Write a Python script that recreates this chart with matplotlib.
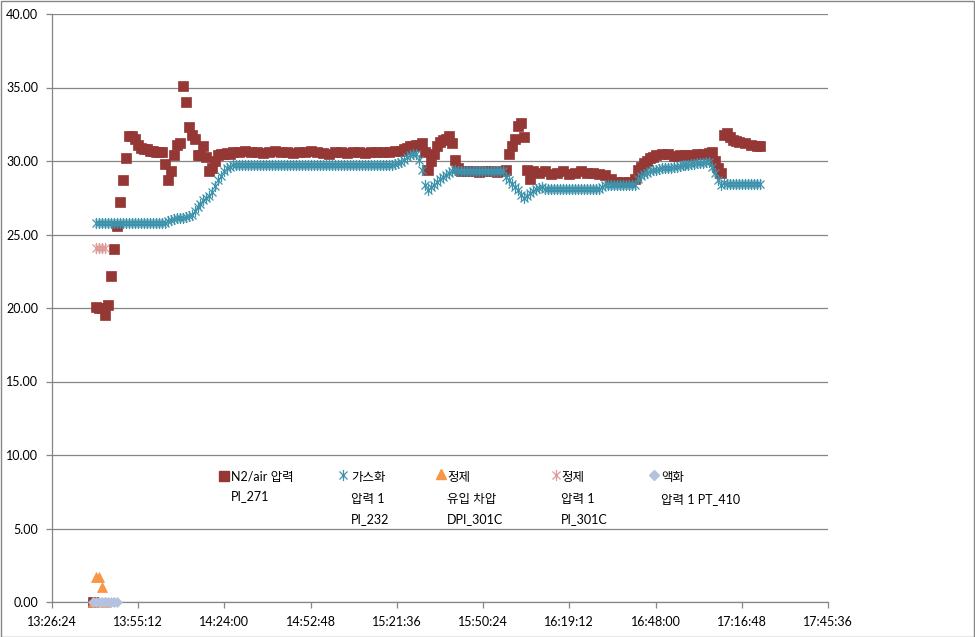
import matplotlib
matplotlib.use("Agg")
import matplotlib.pyplot as plt
from matplotlib.path import Path
from matplotlib.lines import Line2D
from matplotlib.patches import Rectangle

# ---------------- data ----------------
x_tick_labels = ["13:26:24", "13:55:12", "14:24:00", "14:52:48", "15:21:36",
                 "15:50:24", "16:19:12", "16:48:00", "17:16:48", "17:45:36"]
y_ticks = [0, 5, 10, 15, 20, 25, 30, 35, 40]

n2_time = ["13:40", "13:41", "13:42", "13:43", "13:44", "13:45", "13:46", "13:47", "13:48", "13:49",
           "13:50", "13:51", "13:52", "13:53", "13:54", "13:55", "13:56", "13:57", "13:58", "13:59",
           "14:00", "14:01", "14:02", "14:03", "14:04", "14:05", "14:06", "14:07", "14:08", "14:09",
           "14:10", "14:11", "14:12", "14:13", "14:14", "14:15", "14:16", "14:17", "14:18", "14:19",
           "14:20", "14:21", "14:22", "14:23", "14:24", "14:25", "14:26", "14:27",
           "14:29", "14:31", "14:33", "14:35", "14:37", "14:39", "14:41", "14:43", "14:45", "14:47",
           "14:49", "14:51", "14:53", "14:55", "14:57", "14:59", "15:01", "15:03", "15:05", "15:07",
           "15:09", "15:11", "15:13", "15:15", "15:17", "15:19", "15:21",
           "15:23", "15:24", "15:25", "15:26", "15:27", "15:28", "15:29", "15:30", "15:31", "15:32",
           "15:33", "15:34", "15:35", "15:36", "15:37", "15:38", "15:39", "15:40", "15:41", "15:42",
           "15:43", "15:45", "15:47", "15:49", "15:51", "15:53", "15:55", "15:57", "15:58", "15:59",
           "16:00", "16:01", "16:02", "16:03", "16:04", "16:05", "16:06", "16:07", "16:09", "16:11",
           "16:13", "16:15", "16:17", "16:19", "16:21", "16:23", "16:25", "16:27", "16:29", "16:31",
           "16:33", "16:35", "16:37", "16:39", "16:41", "16:42", "16:43", "16:44", "16:45", "16:46",
           "16:47", "16:48", "16:50", "16:52", "16:54", "16:56", "16:58", "17:00", "17:02", "17:04",
           "17:06", "17:07", "17:08", "17:09", "17:10", "17:11", "17:12", "17:13", "17:14", "17:15",
           "17:16", "17:18", "17:20", "17:22", "17:23"]
n2_val = [0.0, 20.1, 20.0, 20.0, 19.5, 20.2, 22.2, 24.0, 25.6, 27.2,
          28.7, 30.2, 31.7, 31.7, 31.5, 31.1, 30.9, 30.85, 30.8, 30.7,
          30.65, 30.6, 30.6, 30.6, 29.8, 28.7, 29.3, 30.4, 31.1, 31.2,
          35.1, 34.0, 32.3, 31.8, 31.5, 30.4, 30.4, 31.0, 30.3, 29.3,
          29.5, 30.0, 30.4, 30.5, 30.5, 30.55, 30.5, 30.6,
          30.6, 30.65, 30.6, 30.6, 30.55, 30.6, 30.65, 30.6, 30.6, 30.55,
          30.6, 30.6, 30.65, 30.6, 30.55, 30.5, 30.6, 30.6, 30.55, 30.6,
          30.6, 30.55, 30.6, 30.6, 30.6, 30.6, 30.65,
          30.7, 30.8, 30.9, 31.0, 31.05, 31.1, 31.1, 31.2, 30.6, 29.4,
          30.0, 30.5, 31.0, 31.3, 31.4, 31.5, 31.7, 31.2, 30.1, 29.5,
          29.3, 29.3, 29.3, 29.25, 29.3, 29.3, 29.25, 29.3, 29.4, 30.5,
          31.0, 31.5, 32.4, 32.6, 31.6, 29.4, 28.8, 29.3, 29.2, 29.3,
          29.1, 29.2, 29.3, 29.1, 29.2, 29.3, 29.2, 29.2, 29.1, 29.05,
          28.75, 28.6, 28.6, 28.6, 28.8, 29.4, 29.6, 29.85, 30.0, 30.2,
          30.3, 30.4, 30.5, 30.45, 30.35, 30.4, 30.4, 30.4, 30.45, 30.5,
          30.55, 30.6, 30.0, 29.5, 29.15, 31.8, 31.9, 31.6, 31.4, 31.35,
          31.3, 31.2, 31.1, 31.0, 31.0]

# gasification pressure 1 (PI_232): one reading per minute from 13:41 to 17:23
gas_start = "13:41"
gas_val = [
    # 13:41 - 14:04
    25.8, 25.8, 25.8, 25.8, 25.8, 25.8, 25.8, 25.8, 25.8, 25.8,
    25.8, 25.8, 25.8, 25.8, 25.8, 25.8, 25.8, 25.8, 25.8, 25.8,
    25.8, 25.8, 25.8, 25.8,
    # 14:05 - 14:26
    25.9, 26.0, 26.05, 26.1, 26.1, 26.15, 26.2, 26.25, 26.3, 26.6,
    26.9, 27.1, 27.35, 27.5, 27.6, 27.9, 28.3, 28.7, 29.0, 29.3,
    29.5, 29.6,
    # 14:27 - 15:22
    29.7, 29.7, 29.7, 29.7, 29.7, 29.7, 29.7, 29.7, 29.7, 29.7,
    29.7, 29.7, 29.7, 29.7, 29.7, 29.7, 29.7, 29.7, 29.7, 29.7,
    29.7, 29.7, 29.7, 29.7, 29.7, 29.7, 29.7, 29.7, 29.7, 29.7,
    29.7, 29.7, 29.7, 29.7, 29.7, 29.7, 29.7, 29.7, 29.7, 29.7,
    29.7, 29.7, 29.7, 29.7, 29.7, 29.7, 29.7, 29.7, 29.7, 29.7,
    29.7, 29.7, 29.7, 29.75, 29.8, 29.85,
    # 15:23 - 15:41
    29.9, 30.05, 30.25, 30.4, 30.45, 30.5, 30.1, 29.4, 28.4, 28.0,
    28.25, 28.4, 28.6, 28.75, 28.9, 29.05, 29.2, 29.3, 29.4,
    # 15:42 - 15:57
    29.3, 29.3, 29.3, 29.3, 29.3, 29.3, 29.3, 29.3, 29.3, 29.3,
    29.3, 29.3, 29.3, 29.3, 29.3, 29.3,
    # 15:58 - 16:10
    28.9, 28.7, 28.45, 28.2, 28.0, 27.7, 27.45, 27.6, 27.8, 27.95,
    28.1, 28.15, 28.2,
    # 16:11 - 16:29
    28.1, 28.1, 28.1, 28.1, 28.1, 28.1, 28.1, 28.1, 28.1, 28.1,
    28.1, 28.1, 28.1, 28.1, 28.1, 28.1, 28.1, 28.1, 28.1,
    # 16:30 - 16:31
    28.2, 28.35,
    # 16:32 - 16:41
    28.35, 28.35, 28.35, 28.35, 28.35, 28.35, 28.35, 28.35, 28.35, 28.35,
    # 16:42 - 17:11
    28.8, 28.95, 29.1, 29.15, 29.3, 29.4, 29.4, 29.45, 29.5, 29.5,
    29.55, 29.55, 29.6, 29.6, 29.65, 29.7, 29.75, 29.75, 29.8, 29.8,
    29.85, 29.85, 29.85, 29.9, 29.9, 29.6, 29.15, 28.7, 28.35, 28.5,
    # 17:12 - 17:23
    28.45, 28.45, 28.45, 28.45, 28.45, 28.45, 28.45, 28.45, 28.45, 28.45,
    28.45, 28.45,
]

dp_time = ["13:40", "13:41", "13:42", "13:43", "13:44"]
dp_val = [0.0, 1.7, 1.7, 1.0, 0.0]

pur_time = ["13:41", "13:42", "13:43", "13:44"]
pur_val = [24.1, 24.1, 24.1, 24.1]

liq_time = ["13:40", "13:41", "13:42", "13:43", "13:44", "13:45", "13:46", "13:47", "13:48"]
liq_val = [0.0, 0.0, 0.0, 0.0, 0.0, 0.0, 0.0, 0.0, 0.0]

# ---------------- helpers ----------------
def to_min(s):
    """minutes since 13:30"""
    parts = [int(p) for p in s.split(":")]
    h, m = parts[0], parts[1]
    sec = parts[2] if len(parts) > 2 else 0
    return (h * 60 + m + sec / 60.0) - (13 * 60 + 30)

tick_pos = [to_min(t) for t in x_tick_labels]
gas_x = [to_min(gas_start) + i for i in range(len(gas_val))]

C_N2 = "#953735"
C_GAS = "#3E93AC"
C_DP = "#F79646"
C_PUR = "#DD9A98"
C_LIQ = "#B4C2DF"
GRID = "#868686"

star = Path([(0, -1), (0, 1), (-0.72, -0.72), (0.72, 0.72), (-0.72, 0.72), (0.72, -0.72)],
            [Path.MOVETO, Path.LINETO, Path.MOVETO, Path.LINETO, Path.MOVETO, Path.LINETO])

plt.rcParams['font.family'] = ['Lato', 'Noto Sans CJK KR', 'DejaVu Sans']

W, H = 975, 637
fig = plt.figure(figsize=(W / 100, H / 100), dpi=100)
ax = fig.add_axes([52 / W, 1 - 602 / H, (828 - 52) / W, (602 - 14) / H])

ax.plot([to_min(t) for t in n2_time], n2_val, ls="none", marker="s", ms=7.2,
        mfc=C_N2, mec=C_N2, mew=0.5, zorder=3, clip_on=False)
ax.plot(gas_x, gas_val, ls="none", marker=star, ms=8,
        mec=C_GAS, mfc="none", mew=0.9, zorder=4, clip_on=False)
ax.plot([to_min(t) for t in dp_time], dp_val, ls="none", marker="^", ms=7.5,
        mfc=C_DP, mec=C_DP, mew=0.5, zorder=5, clip_on=False)
ax.plot([to_min(t) for t in pur_time], pur_val, ls="none", marker=star, ms=8,
        mec=C_PUR, mfc="none", mew=0.9, zorder=6, clip_on=False)
ax.plot([to_min(t) for t in liq_time], liq_val, ls="none", marker="D", ms=5.5,
        mfc=C_LIQ, mec=C_LIQ, mew=0.5, zorder=7, clip_on=False)

ax.set_xlim(tick_pos[0], tick_pos[-1])
ax.set_ylim(0, 40)
ax.set_xticks(tick_pos)
ax.set_xticklabels(x_tick_labels)
ax.set_yticks(y_ticks)
ax.set_yticklabels([f"{v:.2f}" for v in y_ticks])
ax.yaxis.grid(True, color=GRID, lw=0.9)
ax.set_axisbelow(True)
for s in ["top", "right"]:
    ax.spines[s].set_visible(False)
for s in ["left", "bottom"]:
    ax.spines[s].set_color(GRID)
    ax.spines[s].set_linewidth(0.9)
ax.tick_params(axis="both", colors=GRID, labelcolor="black", labelsize=9, length=4, width=0.9)
ax.tick_params(axis="y", pad=6)
ax.tick_params(axis="x", pad=6)

# ---------------- legend (drawn manually, Excel style) ----------------
def fx(px):
    return px / W

def fy(py):
    return 1 - py / H

leg_items = [
    ("s", C_N2, 7.2, 224, 476, ["N2/air 압력", "PI_271"], 231, [477, 496]),
    (star, C_GAS, 8, 343, 475, ["가스화", "압력 1", "PI_232"], 351, [477, 499, 519]),
    ("^", C_DP, 7.5, 441, 474, ["정제", "유입 차압", "DPI_301C"], 447, [477, 499, 519]),
    (star, C_PUR, 8, 556, 475, ["정제", "압력 1", "PI_301C"], 561, [477, 499, 519]),
    ("D", C_LIQ, 5.5, 654, 475, ["액화", "압력 1 PT_410"], 661, [477, 499]),
]
for mk, col, ms, mx, my, lines, tx, tys in leg_items:
    if mk is star:
        fig.add_artist(Line2D([fx(mx)], [fy(my)], transform=fig.transFigure, ls="none",
                              marker=mk, ms=ms, mec=col, mfc="none", mew=0.9))
    else:
        fig.add_artist(Line2D([fx(mx)], [fy(my)], transform=fig.transFigure, ls="none",
                              marker=mk, ms=ms, mec=col, mfc=col))
    for txt, ty in zip(lines, tys):
        fig.text(fx(tx), fy(ty), txt, fontsize=9, ha="left", va="center", color="black")

# chart-area border
fig.add_artist(Rectangle((0.5 / W, 0.5 / H), 1 - 1.5 / W, 1 - 1.5 / H, transform=fig.transFigure,
                         fill=False, ec=GRID, lw=1.0))

fig.savefig("out.png", dpi=100)
